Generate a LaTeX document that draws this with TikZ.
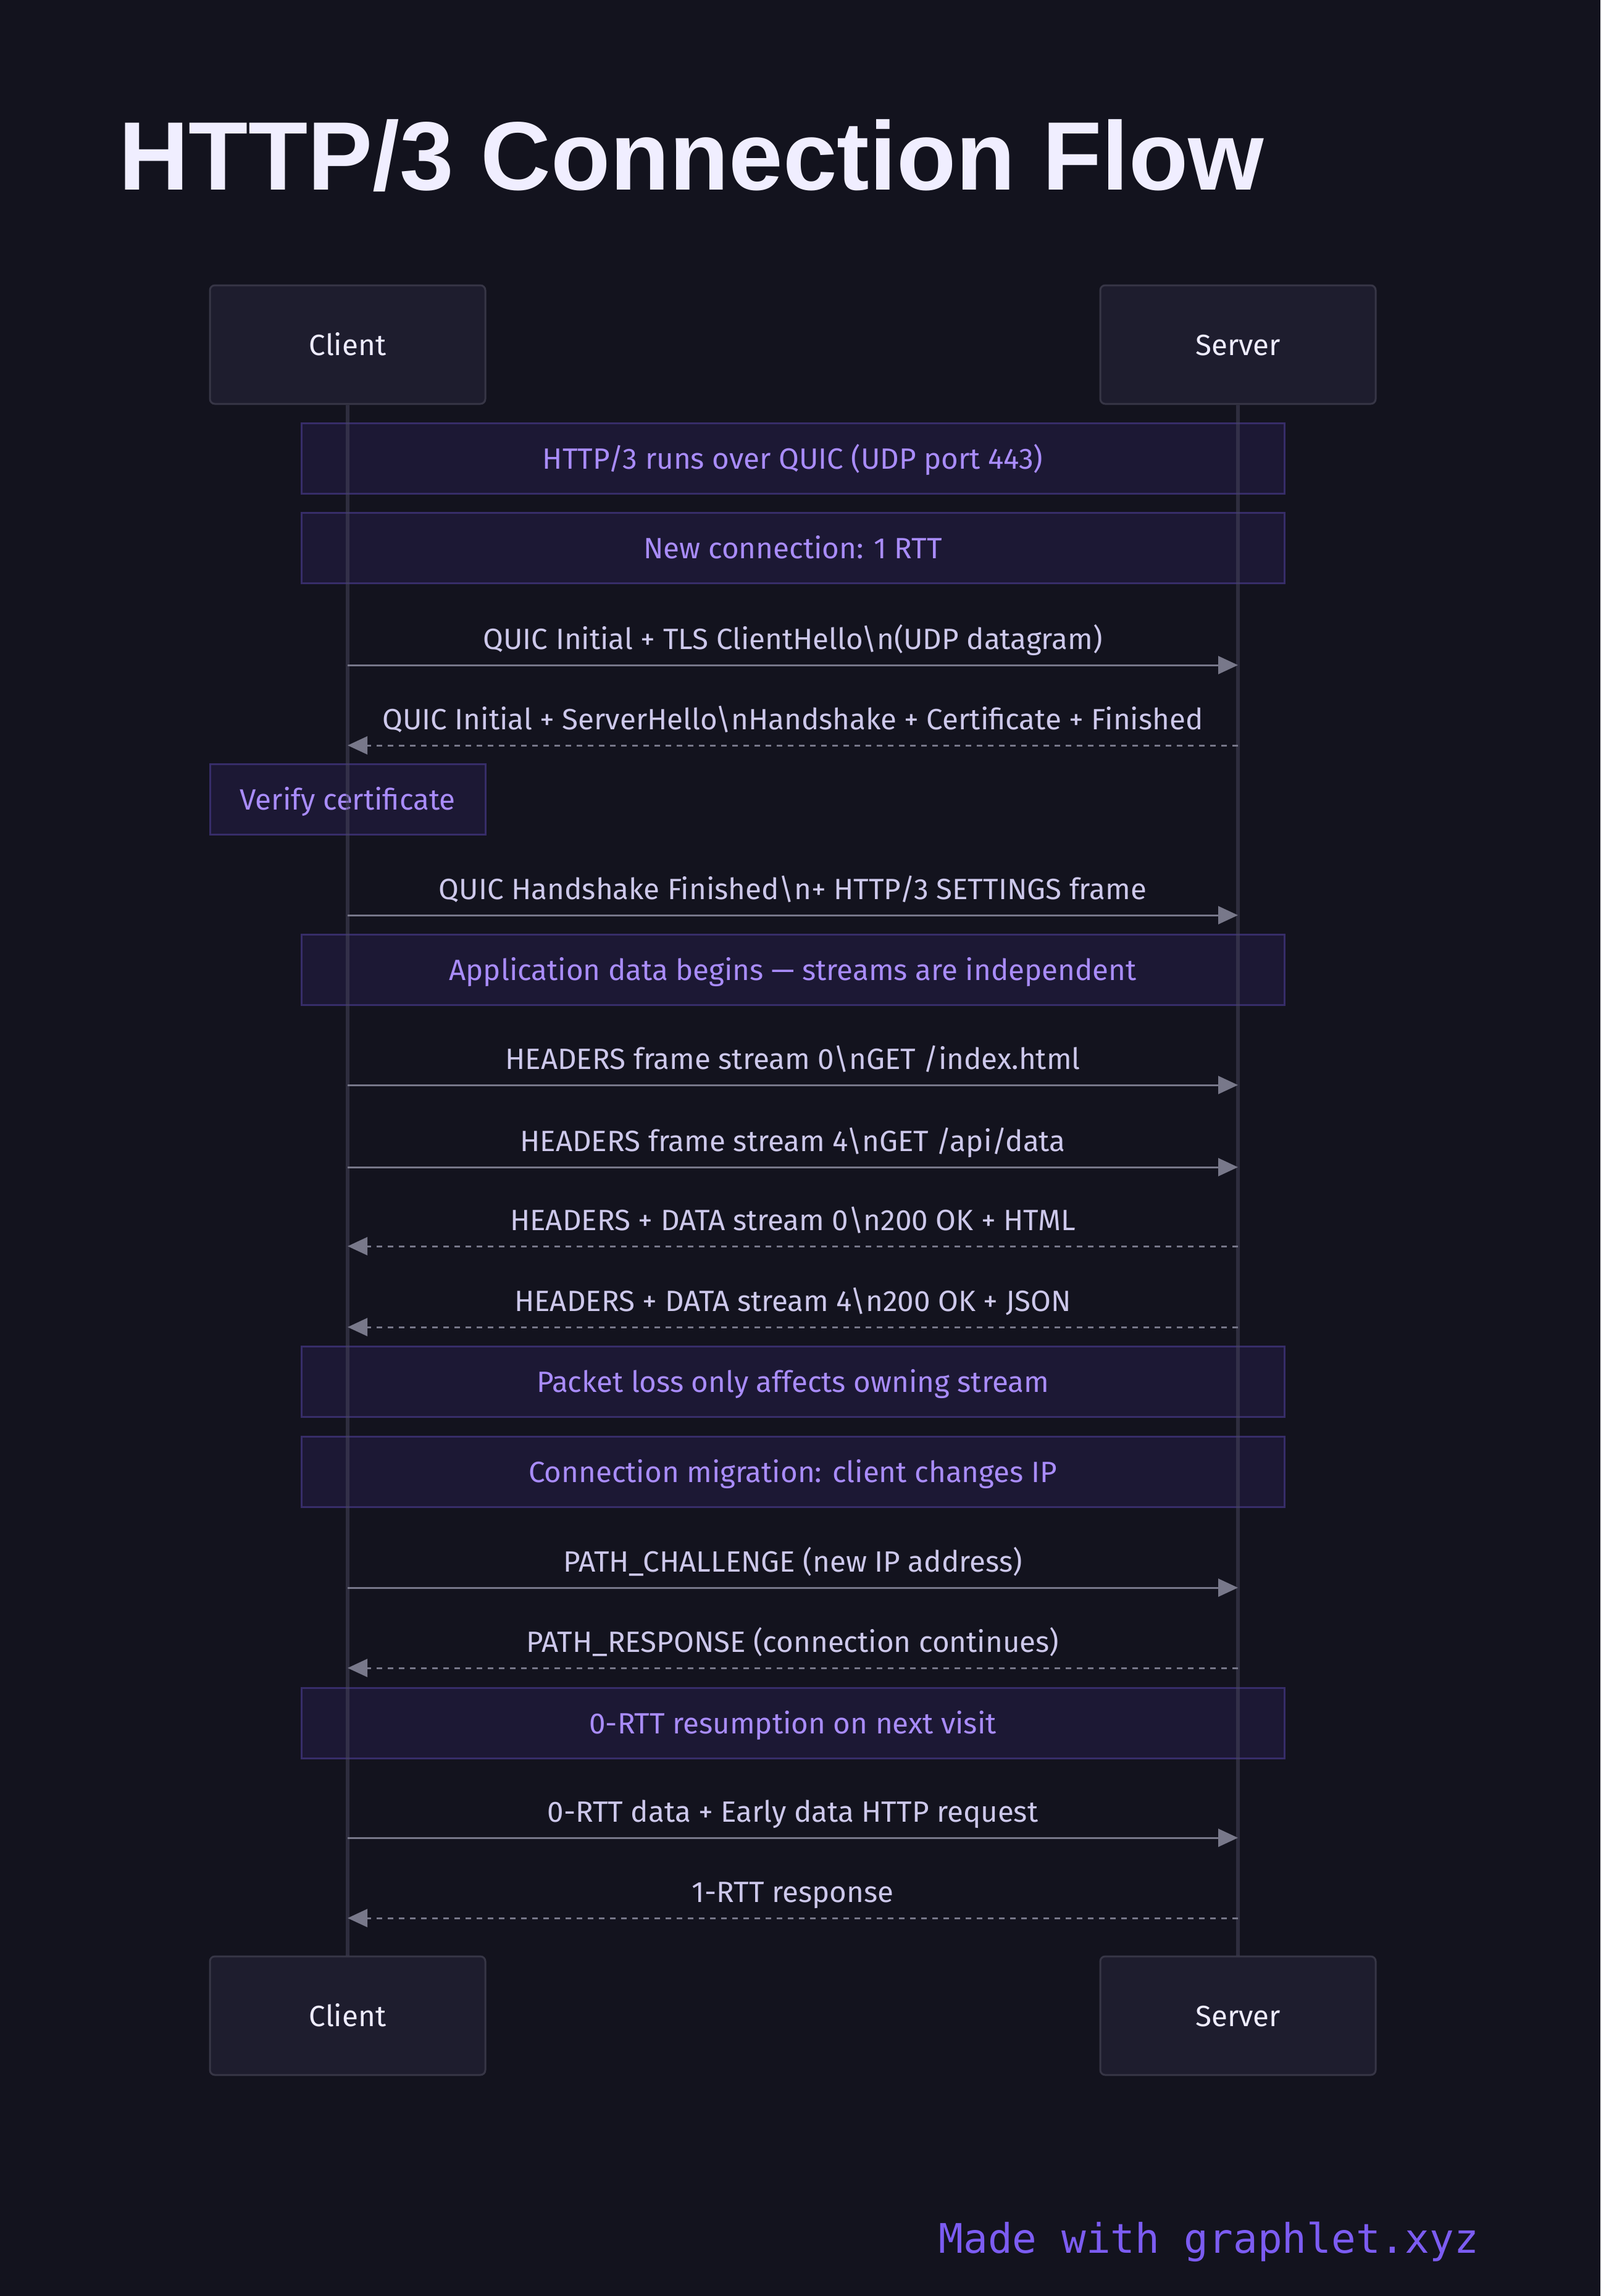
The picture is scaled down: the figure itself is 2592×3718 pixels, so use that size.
\documentclass[tikz,border=0pt]{standalone}
\usepackage{fontspec}
\setmainfont{Fira Sans}
\newfontfamily\titlefont{Liberation Sans}
\newfontfamily\footfont{DejaVu Sans Mono}
\usetikzlibrary{arrows.meta}
\definecolor{bg}{HTML}{13131E}
\definecolor{boxfill}{HTML}{1E1D2E}
\definecolor{boxline}{HTML}{373646}
\definecolor{notefill}{HTML}{1C1834}
\definecolor{noteline}{HTML}{372D69}
\definecolor{notetext}{HTML}{A98CFB}
\definecolor{lbltext}{HTML}{CDC8EB}
\definecolor{actortext}{HTML}{EEECFF}
\definecolor{titletext}{HTML}{F0EEFF}
\definecolor{arrowgray}{HTML}{78788A}
\definecolor{lifecol}{HTML}{4A485E}
\definecolor{foot}{HTML}{7C5CF2}
\newcommand\bodyfont{\fontsize{47.5}{57}\selectfont}
\tikzset{
  actor/.style={draw=boxline, fill=boxfill, rounded corners=8pt, line width=3pt,
    minimum width=446pt, minimum height=192pt, text=actortext, font=\bodyfont,
    inner sep=0pt, text height=34pt, text depth=0pt},
  widenote/.style={draw=noteline, fill=notefill, line width=3pt,
    minimum width=1592pt, minimum height=114pt, text=notetext, font=\bodyfont,
    inner sep=0pt, text height=34pt, text depth=0pt},
  smallnote/.style={widenote, minimum width=446pt},
  life/.style={draw=lifecol, draw opacity=0.5, line width=6pt},
  msg/.style={draw=arrowgray, line width=3pt, -{Triangle[length=32pt,width=29pt]}},
  reply/.style={msg, dash pattern=on 9pt off 9pt},
  lbl/.style={midway, yshift=43pt, font=\bodyfont, text=lbltext, inner sep=0pt,
    text height=34pt, text depth=0pt, fill=none}
}
\newcommand\msgto[3]{%
  \coordinate (#2a) at (563,#1); \coordinate (#2b) at (2005,#1);
  \draw[msg] (#2a) -- node[lbl]{#3} (#2b);}
\newcommand\msgback[3]{%
  \coordinate (#2a) at (563,#1); \coordinate (#2b) at (2005,#1);
  \draw[reply] (#2b) -- node[lbl]{#3} (#2a);}
\newcommand\bs{\textbackslash}
\begin{document}
\begin{tikzpicture}[x=1pt,y=-1pt]
  \fill[bg] (0,0) rectangle (2592,3718);
  \useasboundingbox (0,0) rectangle (2592,3718);

  \node[anchor=base west, inner sep=0pt, text=titletext,
        font=\titlefont\bfseries\fontsize{157.5}{170}\selectfont] (title) at (192,307) {HTTP/3 Connection Flow};

  \node[actor] (ct) at (563,558) {Client};
  \node[actor] (st) at (2005,558) {Server};
  \node[actor] (cb) at (563,3264) {Client};
  \node[actor] (sb) at (2005,3264) {Server};

  \node[widenote] (n1) at (1284,742) {HTTP/3 runs over QUIC (UDP port 443)};
  \node[widenote] (n2) at (1284,887) {New connection: 1 RTT};
  \node[smallnote] (n3) at (563,1294) {Verify certificate};
  \node[widenote] (n4) at (1284,1570) {Application data begins — streams are independent};
  \node[widenote] (n5) at (1284,2237) {Packet loss only affects owning stream};
  \node[widenote] (n6) at (1284,2383) {Connection migration: client changes IP};
  \node[widenote] (n7) at (1284,2790) {0-RTT resumption on next visit};

  \draw[life] (ct.south) -- (cb.north);
  \draw[life] (st.south) -- (sb.north);

  \msgto{1077}{m1}{QUIC Initial + TLS ClientHello\bs n(UDP datagram)}
  \msgback{1207}{m2}{QUIC Initial + ServerHello\bs nHandshake + Certificate + Finished}
  \msgto{1482}{m3}{QUIC Handshake Finished\bs n+ HTTP/3 SETTINGS frame}
  \msgto{1757}{m4}{HEADERS frame stream 0\bs nGET /index.html}
  \msgto{1890}{m5}{HEADERS frame stream 4\bs nGET /api/data}
  \msgback{2018}{m6}{HEADERS + DATA stream 0\bs n200 OK + HTML}
  \msgback{2149}{m7}{HEADERS + DATA stream 4\bs n200 OK + JSON}
  \msgto{2571}{m8}{PATH\_CHALLENGE (new IP address)}
  \msgback{2701}{m9}{PATH\_RESPONSE (connection continues)}
  \msgto{2976}{m10}{0-RTT data + Early data HTTP request}
  \msgback{3106}{m11}{1-RTT response}

  \node[anchor=base east, inner sep=0pt, text=foot,
        font=\footfont\fontsize{66}{70}\selectfont] (footer) at (2395,3648) {Made with graphlet.xyz};
\end{tikzpicture}
\end{document}
